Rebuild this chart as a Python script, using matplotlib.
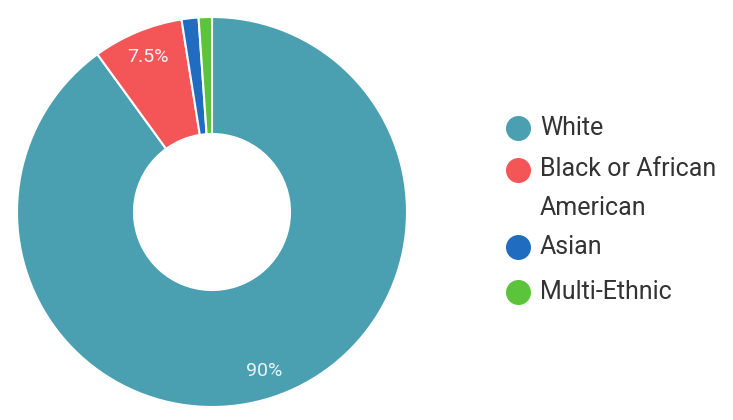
import matplotlib
matplotlib.use('Agg')
import matplotlib.pyplot as plt
from matplotlib.lines import Line2D

plt.rcParams['font.family'] = ['Roboto', 'DejaVu Sans']

categories = ['White', 'Black or African\nAmerican', 'Asian', 'Multi-Ethnic']
shares = [90, 7.5, 1.4, 1.1]
labels = ['90%', '7.5%', '', '']
colors = ['#4a9fb1', '#f45657', '#1f6cc0', '#5cc43a']

W, H = 733, 420
fig = plt.figure(figsize=(W / 100, H / 100), dpi=100)

# donut: centre (212, 212) px, radius 195 px
cx, cy, r = 212, 212, 195
ax = fig.add_axes([(cx - r) / W, (H - cy - r) / H, 2 * r / W, 2 * r / H])
wedges, texts = ax.pie(shares, colors=colors, startangle=90, counterclock=False,
                       labels=labels, labeldistance=0.86,
                       wedgeprops=dict(width=0.6, edgecolor='white', linewidth=1.5),
                       textprops=dict(color='#e8f4f6', fontsize=14, ha='center', va='center'))
ax.set_xlim(-1, 1)
ax.set_ylim(-1, 1)
ax.set_aspect('equal')
ax.axis('off')

# legend drawn by hand
rows = [128, 170, 247, 292]
for cat, col, y in zip(categories, colors, rows):
    fig.add_artist(Line2D([518 / W], [1 - y / H], marker='o', markersize=17,
                          color=col, transform=fig.transFigure))
    if '\n' in cat:
        fig.text(540 / W, 1 - (y - 13) / H, cat, fontsize=18, color='#333333',
                 va='top', linespacing=1.8)
    else:
        fig.text(540 / W, 1 - y / H, cat, fontsize=18, color='#333333',
                 va='center')

fig.savefig('out.png', dpi=100)
